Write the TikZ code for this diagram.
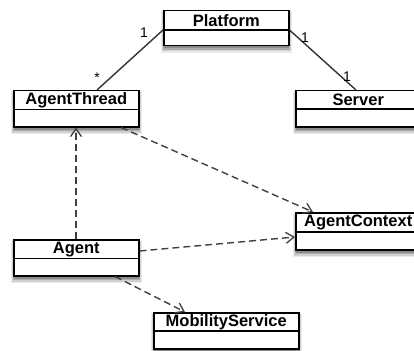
\documentclass[tikz,border=0pt]{standalone}
\usepackage{fontspec}
\setmainfont{Liberation Sans}
\usetikzlibrary{arrows.meta,calc}
\tikzset{
  classbox/.style={draw=black, line width=1.5pt, fill=white, anchor=north west, inner sep=0pt},
  shadowlayer/.style={fill=black!#1},
  classname/.style={font=\bfseries\fontsize{16.5}{17}\selectfont, inner sep=0pt},
  divider/.style={draw=black, line width=1.3pt},
  assoc/.style={draw=black!80, line width=1.4pt},
  dep/.style={draw=black!75, line width=1.4pt, dash pattern=on 7pt off 4pt,
    -{Straight Barb[length=8pt,width=11pt,line width=1.3pt]}},
  mult/.style={font=\fontsize{14}{14}\selectfont, inner sep=0pt}
}
\newcommand{\umlcls}[7]{% name, x, y, w, h, divider offset, text
  \fill[shadowlayer=8] ($(#2,#3)+(-2,1)$) rectangle ($(#2,#3)+(#4+4,#5+8)$);
  \fill[shadowlayer=18] ($(#2,#3)+(-1,2)$) rectangle ($(#2,#3)+(#4+3,#5+6.5)$);
  \fill[shadowlayer=32] ($(#2,#3)+(0,3)$) rectangle ($(#2,#3)+(#4+2,#5+5)$);
  \fill[shadowlayer=45] ($(#2,#3)+(1,4)$) rectangle ($(#2,#3)+(#4+1,#5+3.5)$);
  \node[classbox, minimum width=#4pt, minimum height=#5pt] (#1) at (#2,#3) {};
  \draw[divider] ($(#1.north west)+(0,#6)$) -- ($(#1.north east)+(0,#6)$);
  \node[classname] (#1-t) at ($(#1.north)+(0,#6/2+0.5)$) {#7};
}
\begin{document}
\begin{tikzpicture}[x=1pt,y=-1pt]
\useasboundingbox (0,0) rectangle (414,350);
\begin{scope}
\clip (0,0) rectangle (414,350);
\umlcls{pl}{163}{10}{125}{35}{20}{Platform}
\umlcls{at}{13}{90}{125}{36}{19.5}{AgentThread}
\umlcls{sv}{295}{90}{125}{36}{19}{Server}
\umlcls{ac}{295}{212}{125}{37}{20}{AgentContext}
\umlcls{ag}{13}{239}{125}{36}{19.5}{Agent}
\umlcls{ms}{153}{312}{145}{36}{19}{MobilityService}

% associations
\draw[assoc] ($(pl.north west)+(0,20)$) -- ($(at.north west)+(84,0)$);
\draw[assoc] ($(pl.north east)+(0,20)$) -- ($(sv.north west)+(61,0)$);
\node[mult] (m1) at (144,33) {1};
\node[mult] (m2) at (97,78) {*};
\node[mult] (m3) at (305,38) {1};
\node[mult] (m4) at (347,77) {1};

% dependencies
\draw[dep] ($(ag.north west)+(63,0)$) -- ($(at.south west)+(63,0)$);
\draw[dep] ($(at.south west)+(108,0)$) -- ($(ac.north west)+(18,0)$);
\draw[dep] ($(ag.north east)+(0,12)$) -- ($(ac.north west)+(0,25)$);
\draw[dep] ($(ag.south west)+(102,0)$) -- ($(ms.north west)+(32,0)$);
\end{scope}
\end{tikzpicture}
\end{document}
